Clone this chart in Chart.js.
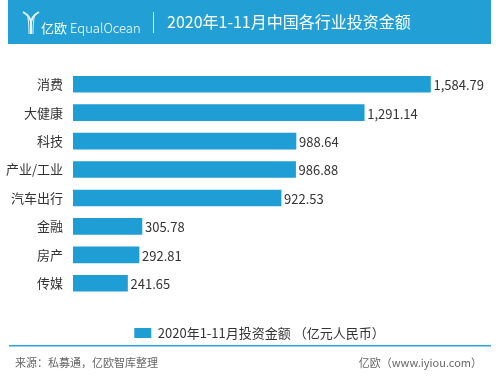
<!DOCTYPE html>
<html>
<head>
<meta charset="utf-8">
<script src="https://cdn.jsdelivr.net/npm/chart.js@4/dist/chart.umd.min.js"></script>
<style>
    html, body { margin: 0; padding: 0; background: #fff; }
    #wrap { width: 500px; height: 378px; position: relative; }
</style>
</head>
<body>
<div id="wrap"><canvas id="chart" width="500" height="378"></canvas></div>
<script>
    var categories = ['消费', '大健康', '科技', '产业/工业', '汽车出行', '金融', '房产', '传媒'];
    var amounts = [1584.79, 1291.14, 988.64, 986.88, 922.53, 305.78, 292.81, 241.65];
    var seriesName = '2020年1-11月投资金额 （亿元人民币）';
    var title = '2020年1-11月中国各行业投资金额';
    var sourceText = '来源：私募通，亿欧智库整理';
    var siteText = '亿欧（www.iyiou.com）';

    var FONT = '"Noto Sans CJK SC", "Noto Sans", sans-serif';
    var BLUE = '#1f9ed6';

    // Header band, divider line and footer texts
    var frame = {
        id: 'frame',
        afterLayout: function(chart) {
            // nudge the legend to the right, like the original
            chart.legend.left += 20;
            chart.legend.right += 20;
        },
        beforeDraw: function(chart) {
            var ctx = chart.ctx;
            ctx.save();
            ctx.fillStyle = '#22a0d6';
            ctx.fillRect(8, 0, 483, 44);

            // logo mark
            ctx.strokeStyle = '#e6f4fb';
            ctx.lineWidth = 2;
            ctx.beginPath();
            ctx.moveTo(23, 12); ctx.quadraticCurveTo(30, 16, 31, 22);
            ctx.moveTo(39, 12); ctx.quadraticCurveTo(32, 16, 31, 22);
            ctx.moveTo(31, 21); ctx.lineTo(31, 34);
            ctx.stroke();
            ctx.lineWidth = 1;
            ctx.beginPath();
            ctx.moveTo(27, 14); ctx.quadraticCurveTo(29, 20, 29, 34);
            ctx.moveTo(35, 14); ctx.quadraticCurveTo(33, 20, 33, 34);
            ctx.stroke();

            ctx.fillStyle = '#ffffff';
            ctx.textBaseline = 'middle';
            ctx.font = '13px ' + FONT;
            ctx.fillText('亿欧', 41, 28);
            ctx.font = '300 13px ' + FONT;
            ctx.fillText('EqualOcean', 70, 28);

            ctx.fillStyle = '#d7eef9';
            ctx.fillRect(153, 12, 1, 21);

            ctx.fillStyle = '#ffffff';
            ctx.font = '16px ' + FONT;
            ctx.fillText(title, 167, 22);

            // footer
            ctx.fillStyle = '#2aa6dc';
            ctx.fillRect(9, 345, 482, 1.5);
            ctx.fillStyle = '#666666';
            ctx.font = '11px ' + FONT;
            ctx.textAlign = 'left';
            ctx.fillText(sourceText, 15, 363);
            ctx.textAlign = 'right';
            ctx.fillText(siteText, 482, 363);
            ctx.restore();
        }
    };

    // Value labels at the end of each bar
    var barLabels = {
        id: 'barLabels',
        afterDatasetsDraw: function(chart) {
            var ctx = chart.ctx;
            var meta = chart.getDatasetMeta(0);
            ctx.save();
            ctx.fillStyle = '#333333';
            ctx.font = '13px ' + FONT;
            ctx.textBaseline = 'middle';
            ctx.textAlign = 'left';
            meta.data.forEach(function(bar, i) {
                var txt = amounts[i].toLocaleString('en-US', { minimumFractionDigits: 2, maximumFractionDigits: 2 });
                ctx.fillText(txt, bar.x + 3, bar.y + 1);
            });
            ctx.restore();
        }
    };

    new Chart(document.getElementById('chart'), {
        type: 'bar',
        data: {
            labels: categories,
            datasets: [{
                label: seriesName,
                data: amounts,
                backgroundColor: BLUE,
                borderWidth: 0,
                barThickness: 16
            }]
        },
        options: {
            indexAxis: 'y',
            responsive: false,
            animation: false,
            layout: { padding: { top: 70, left: 0, right: 21, bottom: 28.5 } },
            scales: {
                x: {
                    display: false,
                    min: 0,
                    max: 1800
                },
                y: {
                    grid: { display: false, drawTicks: false },
                    border: { display: false },
                    ticks: {
                        color: '#333333',
                        padding: 10,
                        font: { family: FONT, size: 13 }
                    },
                    afterFit: function(scale) { scale.width = 73; }
                }
            },
            plugins: {
                legend: {
                    position: 'bottom',
                    labels: {
                        boxWidth: 17,
                        boxHeight: 10,
                        color: '#333333',
                        padding: 29,
                        font: { family: FONT, size: 13 }
                    }
                },
                tooltip: { enabled: false }
            }
        },
        plugins: [frame, barLabels]
    });
</script>
</body>
</html>
